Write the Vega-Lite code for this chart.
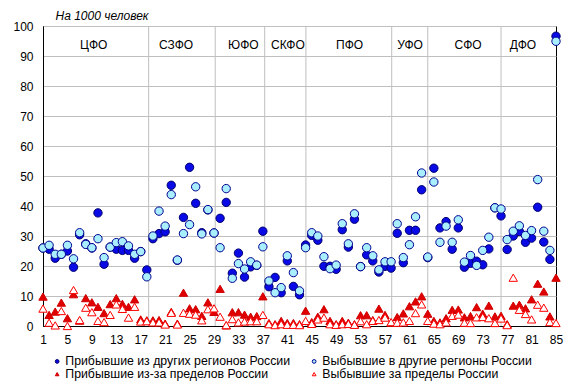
{
 "$schema": "https://vega.github.io/schema/vega-lite/v6.json",
 "width": 513, "height": 300,
 "autosize": {"type": "none"},
 "padding": {"left": 43, "top": 26, "right": 18, "bottom": 61},
 "config": {
  "font": "Liberation Sans",
  "view": {"stroke": "black", "strokeWidth": 1},
  "axis": {"labelFont": "Liberation Sans", "labelFontSize": 12, "labelColor": "black", "domainColor": "black", "ticks": false, "labelOverlap": false},
  "legend": {"labelFont": "Liberation Sans", "labelFontSize": 12.3, "labelColor": "black", "labelOffset": 2, "rowPadding": 0, "columnPadding": 17, "orient": "bottom", "offset": 2, "padding": 8, "labelLimit": 320, "symbolSize": 14, "symbolStrokeWidth": 1}
 },
 "datasets": {
  "pts": [
   {"r":1,"a":26,"b":26,"c":9.8,"d":5.8},
   {"r":2,"a":25.6,"b":26.9,"c":3.7,"d":1.1},
   {"r":3,"a":22.6,"b":23.9,"c":4.8,"d":0.2},
   {"r":4,"a":23.9,"b":23.9,"c":7.8,"d":5},
   {"r":5,"a":25,"b":26.9,"c":2.6,"d":0},
   {"r":6,"a":19.6,"b":22.4,"c":10.6,"d":12},
   {"r":7,"a":30.4,"b":31.1,"c":1.8,"d":2.0},
   {"r":8,"a":27.4,"b":27.2,"c":9.3,"d":6.1},
   {"r":9,"a":26,"b":26.1,"c":7.9,"d":4.6},
   {"r":10,"a":37.7,"b":29.1,"c":6.4,"d":1.7},
   {"r":11,"a":20.6,"b":22.8,"c":4.3,"d":1.3},
   {"r":12,"a":26.3,"b":26.3,"c":7.3,"d":3.7},
   {"r":13,"a":25.6,"b":27.8,"c":9.3,"d":7.2},
   {"r":14,"a":25.2,"b":28.1,"c":7.4,"d":5.7},
   {"r":15,"a":25.2,"b":26.7,"c":6.4,"d":2.8},
   {"r":16,"a":22.6,"b":23.9,"c":8.9,"d":6.4},
   {"r":17,"a":24.8,"b":24.8,"c":2.2,"d":1.5},
   {"r":18,"a":18.7,"b":16.4,"c":1.9,"d":1.6},
   {"r":19,"a":29.1,"b":30,"c":1.9,"d":1.2},
   {"r":20,"a":30.8,"b":38.3,"c":2.0,"d":1.2},
   {"r":21,"a":31.4,"b":33.3,"c":0.8,"d":0.5},
   {"r":22,"a":46.9,"b":43.8,"c":4.7,"d":4.4},
   {"r":23,"a":21.9,"b":22,"c":0.8,"d":0.5},
   {"r":24,"a":36.2,"b":30.8,"c":11.1,"d":4.4},
   {"r":25,"a":52.9,"b":33.8,"c":5.9,"d":4.1},
   {"r":26,"a":40.9,"b":46.4,"c":5.6,"d":3.8},
   {"r":27,"a":31.1,"b":30.7,"c":3.4,"d":1.9},
   {"r":28,"a":38.7,"b":38.8,"c":7.9,"d":5.6},
   {"r":29,"a":31,"b":31,"c":4.7,"d":5.9},
   {"r":30,"a":35.9,"b":26.1,"c":12.4,"d":3.1},
   {"r":31,"a":41.2,"b":45.8,"c":0.2,"d":0.3},
   {"r":32,"a":17.6,"b":15.9,"c":4.6,"d":2.3},
   {"r":33,"a":24.3,"b":20.8,"c":4.6,"d":1.2},
   {"r":34,"a":16.3,"b":19,"c":3.8,"d":1.5},
   {"r":35,"a":19.7,"b":21.4,"c":3.1,"d":1.6},
   {"r":36,"a":20.2,"b":20.3,"c":3.3,"d":1.6},
   {"r":37,"a":31.6,"b":26.4,"c":9.9,"d":3.7},
   {"r":38,"a":13.1,"b":15,"c":1.0,"d":0.6},
   {"r":39,"a":16.2,"b":11.1,"c":0.6,"d":0.3},
   {"r":40,"a":11.1,"b":12.8,"c":1.7,"d":0.6},
   {"r":41,"a":21.7,"b":23.4,"c":1.0,"d":0.4},
   {"r":42,"a":13.2,"b":17.8,"c":1.0,"d":0.4},
   {"r":43,"a":10.4,"b":11.7,"c":0.6,"d":0.3},
   {"r":44,"a":27,"b":26.1,"c":5.1,"d":1.7},
   {"r":45,"a":30.2,"b":31.1,"c":1.3,"d":0.7},
   {"r":46,"a":28.6,"b":30,"c":3.1,"d":2.2},
   {"r":47,"a":19.9,"b":23.1,"c":5.6,"d":2.8},
   {"r":48,"a":19.9,"b":19.1,"c":1.7,"d":0.6},
   {"r":49,"a":18.9,"b":20.3,"c":0.6,"d":0.4},
   {"r":50,"a":32.1,"b":34.1,"c":1.7,"d":0.6},
   {"r":51,"a":26.3,"b":27.4,"c":1.1,"d":0.7},
   {"r":52,"a":35.6,"b":37.4,"c":0.6,"d":0.4},
   {"r":53,"a":19.8,"b":19.8,"c":3.6,"d":1.6},
   {"r":54,"a":23.7,"b":26.1,"c":3.6,"d":0.6},
   {"r":55,"a":21.7,"b":23.4,"c":2.0,"d":1.7},
   {"r":56,"a":18,"b":18.7,"c":5.8,"d":2.0},
   {"r":57,"a":19.9,"b":21.4,"c":3.7,"d":2.8},
   {"r":58,"a":19.3,"b":21.4,"c":1.1,"d":1.3},
   {"r":59,"a":30.9,"b":34.1,"c":3.0,"d":1.1},
   {"r":60,"a":21.1,"b":22.8,"c":4.2,"d":1.2},
   {"r":61,"a":31.9,"b":27.1,"c":6.6,"d":1.7},
   {"r":62,"a":31.9,"b":36.4,"c":8.2,"d":4.3},
   {"r":63,"a":45.4,"b":51,"c":9.9,"d":7.2},
   {"r":64,"a":22.8,"b":23,"c":4.1,"d":1.7},
   {"r":65,"a":52.6,"b":48,"c":1.7,"d":0.8},
   {"r":66,"a":32.7,"b":27.9,"c":1.2,"d":0.6},
   {"r":67,"a":34.8,"b":33.3,"c":2.6,"d":1.2},
   {"r":68,"a":25.6,"b":27.9,"c":5.4,"d":3.4},
   {"r":69,"a":32.7,"b":35.4,"c":5.5,"d":3.8},
   {"r":70,"a":19.6,"b":21.3,"c":2.9,"d":1.1},
   {"r":71,"a":20.9,"b":23.5,"c":3.3,"d":1.0},
   {"r":72,"a":21.6,"b":20.2,"c":6.3,"d":2.9},
   {"r":73,"a":20.4,"b":25.2,"c":4.1,"d":3},
   {"r":74,"a":25.7,"b":29.6,"c":6.8,"d":2.6},
   {"r":75,"a":39.4,"b":39.4,"c":3.2,"d":1.0},
   {"r":76,"a":36.7,"b":39,"c":3.4,"d":2.5},
   {"r":77,"a":25.5,"b":28.8,"c":0.6,"d":0.3},
   {"r":78,"a":30,"b":31.6,"c":6.8,"d":16.1},
   {"r":79,"a":31.5,"b":33.4,"c":7.1,"d":5.4},
   {"r":80,"a":27.9,"b":30.2,"c":5.9,"d":4},
   {"r":81,"a":29.3,"b":31.8,"c":8.9,"d":2.2},
   {"r":82,"a":39.6,"b":48.8,"c":14.1,"d":7.1},
   {"r":83,"a":28,"b":31.6,"c":11.5,"d":6.1},
   {"r":84,"a":22.2,"b":25.2,"c":3.2,"d":1.3},
   {"r":85,"a":96.6,"b":94.9,"c":16.1,"d":1.0}
  ],
  "bounds": [{"x":18.3,"y0":0,"y1":100},{"x":29.2,"y0":0,"y1":100},{"x":37.3,"y0":0,"y1":100},{"x":44.05,"y0":0,"y1":100},{"x":58.1,"y0":0,"y1":100},{"x":64,"y0":0,"y1":100},{"x":76,"y0":0,"y1":100}],
  "labels": [
   {"x":9.3,"y":93.6,"t":"ЦФО"},
   {"x":22.8,"y":93.6,"t":"СЗФО"},
   {"x":33.8,"y":93.6,"t":"ЮФО"},
   {"x":41.1,"y":93.6,"t":"СКФО"},
   {"x":51.2,"y":93.6,"t":"ПФО"},
   {"x":61.1,"y":93.6,"t":"УФО"},
   {"x":70.6,"y":93.6,"t":"СФО"},
   {"x":79.6,"y":93.6,"t":"ДФО"}
  ]
 },
 "layer": [
  {
   "data": {"name": "bounds"},
   "mark": {"type": "rule", "color": "#BFBFBF", "strokeWidth": 1},
   "encoding": {
    "x": {"field": "x", "type": "quantitative", "scale": {"domain": [1, 85], "nice": false},
          "axis": {"values": [1,5,9,13,17,21,25,29,33,37,41,45,49,53,57,61,65,69,73,77,81,85], "tickCount": 100, "grid": false, "labelPadding": 8, "labelFlush": false, "title": null}},
    "y": {"field": "y0", "type": "quantitative", "scale": {"domain": [0, 100], "nice": false},
          "axis": {"values": [0,10,20,30,40,50,60,70,80,90,100], "tickCount": 100, "grid": true, "gridColor": "#BFBFBF", "labelPadding": 10,
                   "title": "На 1000 человек", "titleAngle": 0, "titleAlign": "left", "titleBaseline": "alphabetic", "titleX": 12, "titleY": -7,
                   "titleFont": "Liberation Sans", "titleFontSize": 12, "titleFontStyle": "italic", "titleFontWeight": "normal", "titleColor": "black"}},
    "y2": {"field": "y1"}
   }
  },
  {
   "data": {"name": "labels"},
   "mark": {"type": "text", "fontSize": 12, "color": "black", "baseline": "middle", "align": "center"},
   "encoding": {
    "x": {"field": "x", "type": "quantitative", "axis": {"tickCount": 100}},
    "y": {"field": "y", "type": "quantitative", "axis": {"tickCount": 100}},
    "text": {"field": "t"}
   }
  },
  {
   "data": {"name": "pts"},
   "transform": [{"fold": ["a", "b", "c", "d"], "as": ["s", "v"]}],
   "mark": {"type": "point", "opacity": 1, "strokeWidth": 1, "size": 70},
   "encoding": {
    "x": {"field": "r", "type": "quantitative", "axis": {"tickCount": 100}},
    "y": {"field": "v", "type": "quantitative", "axis": {"tickCount": 100}},
    "shape": {"field": "s", "type": "nominal", "scale": {"domain": ["a","b","c","d"], "range": ["circle","circle","triangle-up","triangle-up"]},
      "legend": {"columns": 2, "title": null,
        "labelExpr": "datum.label == 'a' ? 'Прибывшие из других регионов России' : datum.label == 'b' ? 'Выбывшие в другие регионы России' : datum.label == 'c' ? 'Прибывшие из-за пределов России' : 'Выбывшие за пределы России'"}},
    "fill": {"field": "s", "type": "nominal", "scale": {"domain": ["a","b","c","d"], "range": ["#0A0AE6","#A8EEFF","#E00000","#FFFFFF"]}},
    "stroke": {"field": "s", "type": "nominal", "scale": {"domain": ["a","b","c","d"], "range": ["#000070","#000090","#D00000","#FF0000"]}},
    "order": {"field": "s", "type": "nominal", "sort": "ascending"}
   }
  }
 ]
}
